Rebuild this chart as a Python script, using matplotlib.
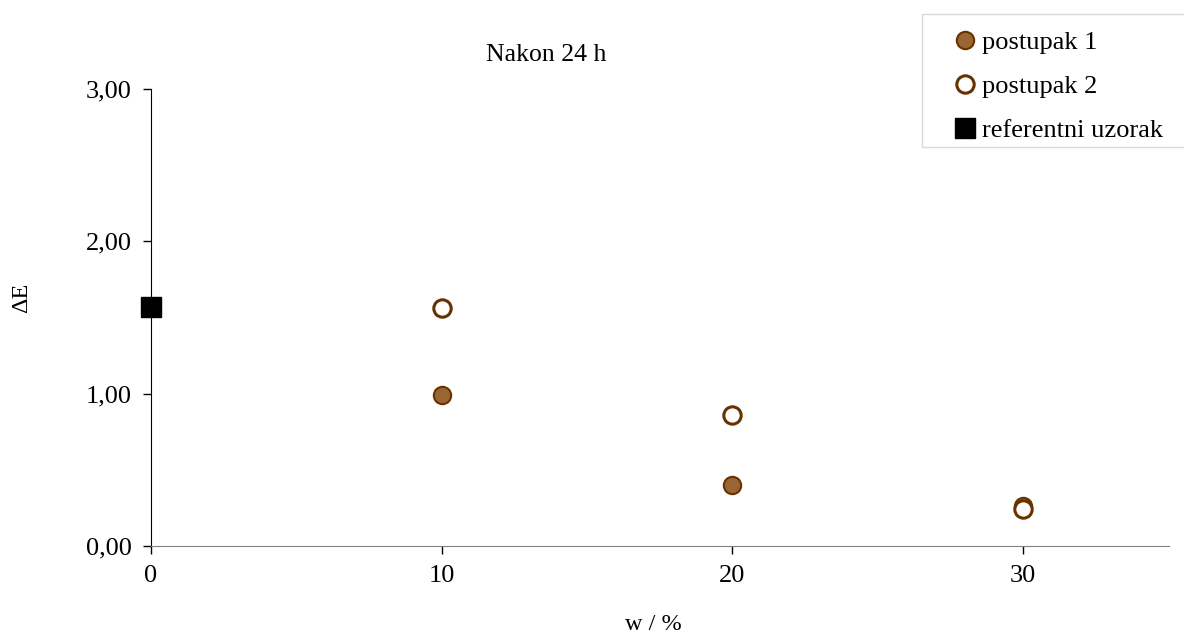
import matplotlib
matplotlib.use("Agg")
import matplotlib.pyplot as plt
from matplotlib.patches import Rectangle
from matplotlib.ticker import FuncFormatter

plt.rcParams['font.family'] = ['Liberation Serif', 'DejaVu Serif']

w_ref = [0]
dE_ref = [1.57]
w_p1 = [10, 20, 30]
dE_p1 = [0.99, 0.40, 0.26]
w_p2 = [10, 20, 30]
dE_p2 = [1.56, 0.86, 0.24]

fig = plt.figure(figsize=(11.84, 6.36), dpi=100)
ax = fig.add_axes([0.1275, 0.1415, 0.8595, 0.7185])

ax.plot(w_p1, dE_p1, 'o', ms=12.5, mfc='#996633', mec='#663300', mew=1.5,
        label='postupak 1', clip_on=False, zorder=3)
ax.plot(w_p2, dE_p2, 'o', ms=12.5, mfc='white', mec='#663300', mew=2.2,
        label='postupak 2', clip_on=False, zorder=3)
ax.plot(w_ref, dE_ref, 's', ms=14, mfc='black', mec='black',
        label='referentni uzorak', clip_on=False, zorder=4)

ax.set_xlim(0, 35)
ax.set_ylim(0, 3)
ax.set_xticks([0, 10, 20, 30])
ax.set_yticks([0, 1, 2, 3])
ax.yaxis.set_major_formatter(FuncFormatter(lambda v, p: f"{v:.2f}".replace('.', ',')))

for s in ['top', 'right']:
    ax.spines[s].set_visible(False)
ax.spines['bottom'].set_color('#808080')
ax.spines['left'].set_color('black')
ax.tick_params(axis='both', labelsize=19, length=6, width=1, direction='out')
ax.tick_params(axis='y', pad=8)
ax.tick_params(axis='x', pad=8)

fig.text(546 / 1184, 1 - 55 / 636, 'Nakon 24 h', ha='center', va='center', fontsize=18.5)
fig.text(653 / 1184, 1 - 624 / 636, 'w / %', ha='center', va='center', fontsize=17.5)
fig.text(22 / 1184, 1 - 298 / 636, 'ΔE', ha='center', va='center', fontsize=17.5, rotation=90)

# legend frame, running off the right edge as in the original
fig.patches.append(Rectangle((922 / 1184, 1 - 147 / 636), 300 / 1184, 133 / 636,
                             transform=fig.transFigure, fill=False,
                             edgecolor='#d9d9d9', linewidth=1))
leg = fig.legend(loc='upper left', bbox_to_anchor=(931 / 1184, 1 - 12 / 636), fontsize=19,
                 frameon=False, handletextpad=0.05, handlelength=1.2,
                 borderpad=0.2, labelspacing=0.78)

fig.savefig('out.png', dpi=100)
